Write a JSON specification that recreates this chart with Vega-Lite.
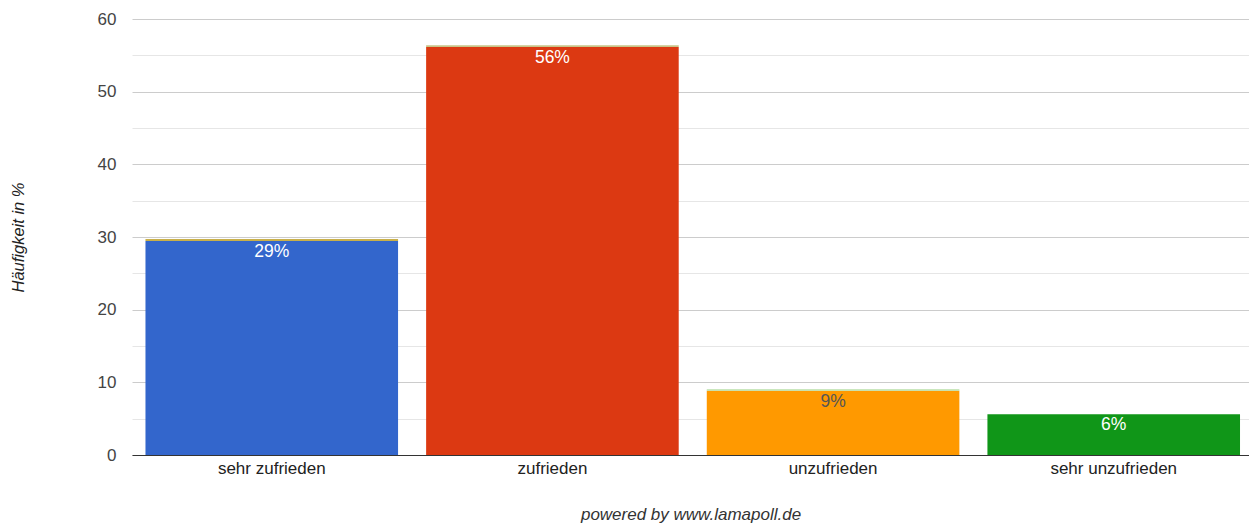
{
  "$schema": "https://vega.github.io/schema/vega-lite/v6.json",
  "autosize": {"type": "none"},
  "width": 1117,
  "height": 436,
  "padding": {"left": 132, "top": 19, "right": 0, "bottom": 70},
  "background": "#ffffff",
  "config": {
    "font": "Liberation Sans",
    "view": {"stroke": null}
  },
  "data": {
    "values": [
      {"antwort": "sehr zufrieden", "serie": "sehr zufrieden", "stufe": 0, "wert": 29.45},
      {"antwort": "sehr zufrieden", "serie": "sehr zufrieden (Rest)", "stufe": 1, "wert": 0.27},
      {"antwort": "zufrieden", "serie": "zufrieden", "stufe": 0, "wert": 56.15},
      {"antwort": "zufrieden", "serie": "zufrieden (Rest)", "stufe": 1, "wert": 0.25},
      {"antwort": "unzufrieden", "serie": "unzufrieden", "stufe": 0, "wert": 8.85},
      {"antwort": "unzufrieden", "serie": "unzufrieden (Rest)", "stufe": 1, "wert": 0.2},
      {"antwort": "sehr unzufrieden", "serie": "sehr unzufrieden", "stufe": 0, "wert": 5.6}
    ]
  },
  "resolve": {"axis": {"y": "independent"}},
  "encoding": {
    "x": {
      "field": "antwort",
      "type": "nominal",
      "sort": ["sehr zufrieden", "zufrieden", "unzufrieden", "sehr unzufrieden"],
      "scale": {"paddingInner": 0.1, "paddingOuter": 0.04, "align": 0.6},
      "axis": {
        "title": "powered by www.lamapoll.de",
        "titleFont": "Liberation Sans",
        "titleFontSize": 17,
        "titleFontStyle": "italic",
        "titleFontWeight": "normal",
        "titleColor": "#333333",
        "titleBaseline": "middle",
        "titleY": 59,
        "labelAngle": 0,
        "labelFontSize": 17,
        "labelColor": "#222222",
        "labelPadding": 5,
        "ticks": false,
        "domain": true,
        "domainColor": "#333333",
        "domainWidth": 1,
        "grid": false
      }
    }
  },
  "layer": [
    {
      "mark": {"type": "bar", "stroke": null},
      "encoding": {
        "y": {
          "field": "wert",
          "type": "quantitative",
          "stack": "zero",
          "scale": {"domain": [0, 60], "nice": false},
          "axis": {
            "title": "Häufigkeit in %",
            "titleFont": "Liberation Sans",
            "titleFontSize": 16.5,
            "titleFontStyle": "italic",
            "titleFontWeight": "normal",
            "titleColor": "#222222",
            "titleX": -114,
            "titleY": 218,
            "titleAlign": "center",
            "titleBaseline": "middle",
            "values": [0, 10, 20, 30, 40, 50, 60],
            "labelFontSize": 17,
            "labelColor": "#444444",
            "labelPadding": 16,
            "ticks": false,
            "domain": false,
            "grid": true,
            "gridColor": "#cccccc",
            "gridWidth": 1
          }
        },
        "color": {
          "field": "serie",
          "type": "nominal",
          "legend": null,
          "scale": {
            "domain": [
              "sehr zufrieden", "sehr zufrieden (Rest)",
              "zufrieden", "zufrieden (Rest)",
              "unzufrieden", "unzufrieden (Rest)",
              "sehr unzufrieden"
            ],
            "range": [
              "#3366cc", "#c9b04a",
              "#dc3912", "#c8c488",
              "#ff9900", "#b9dfa8",
              "#109618"
            ]
          }
        },
        "order": {"field": "stufe", "type": "quantitative"}
      }
    },
    {
      "transform": [
        {"filter": "datum.stufe === 0"},
        {"calculate": "format(datum.wert, '.0f') + '%'", "as": "beschriftung"}
      ],
      "mark": {
        "type": "text",
        "baseline": "middle",
        "align": "center",
        "dy": 11,
        "fontSize": 17.5
      },
      "encoding": {
        "y": {
          "field": "wert",
          "type": "quantitative",
          "axis": {
            "title": null,
            "values": [5, 15, 25, 35, 45, 55],
            "labels": false,
            "ticks": false,
            "domain": false,
            "grid": true,
            "gridColor": "#e6e6e6",
            "gridWidth": 1
          }
        },
        "text": {"field": "beschriftung", "type": "nominal"},
        "color": {
          "condition": {"test": "datum.antwort === 'unzufrieden'", "value": "#555555"},
          "value": "#ffffff"
        }
      }
    }
  ]
}
